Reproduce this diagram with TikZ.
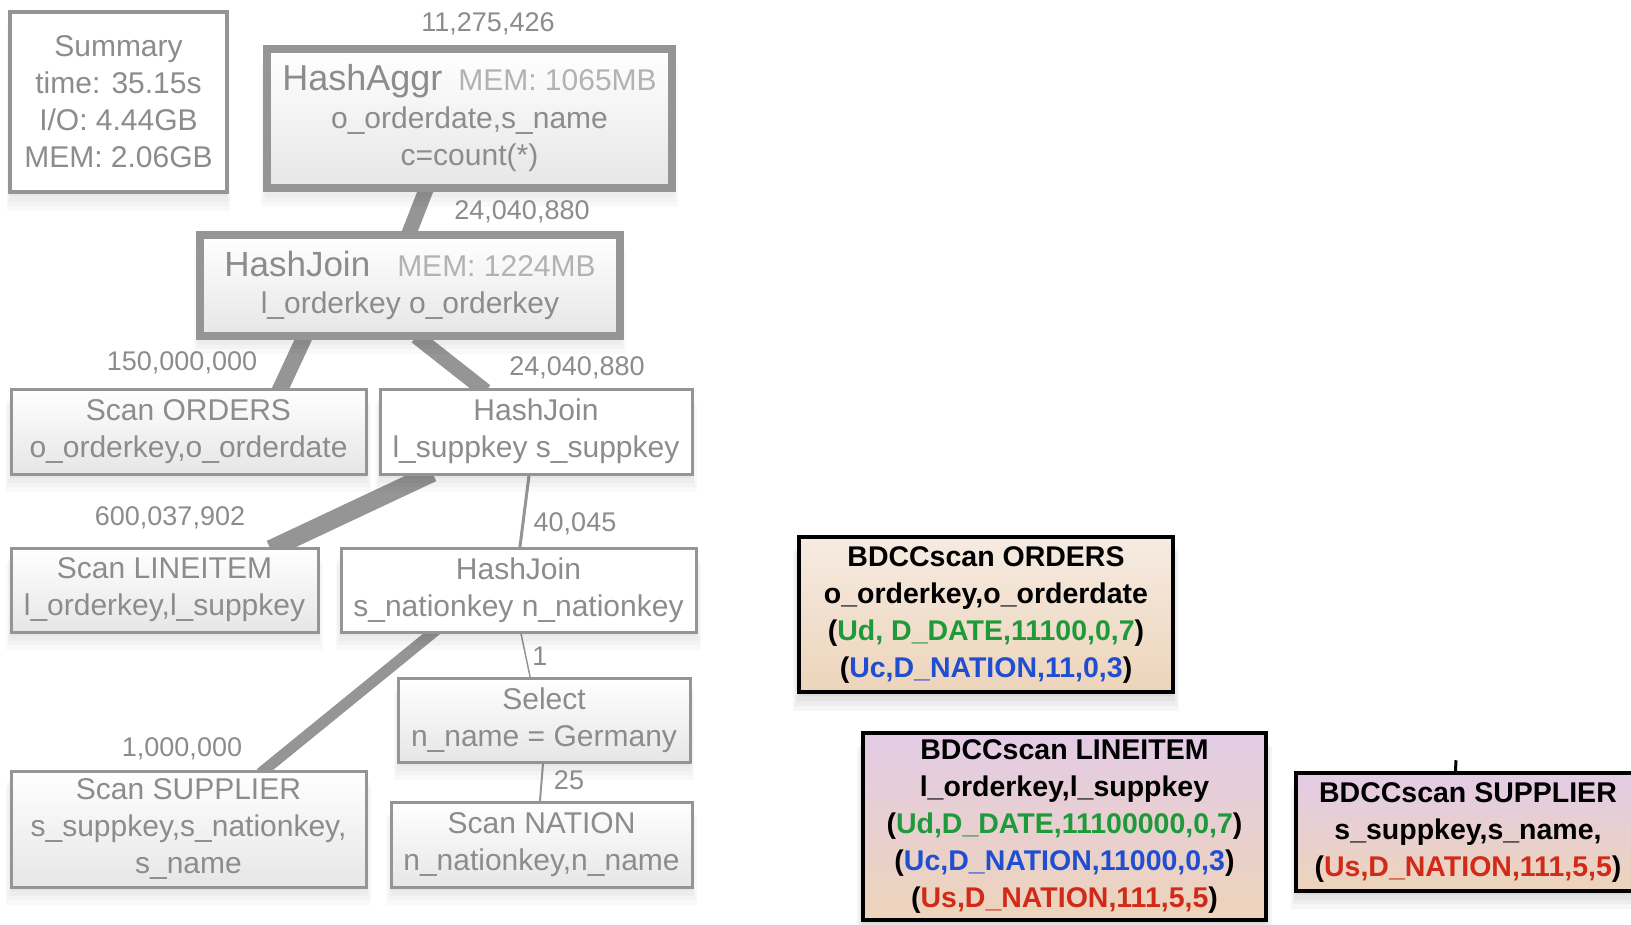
\documentclass[tikz,border=0pt]{standalone}
\usepackage{fontspec}
\setmainfont{Liberation Sans}
\usetikzlibrary{shadows,backgrounds}

\definecolor{plantext}{HTML}{8C8C8C}
\definecolor{planlight}{HTML}{B2B2B2}
\definecolor{planline}{HTML}{959595}
\definecolor{planshade}{HTML}{E6E6E6}
\definecolor{tanA}{HTML}{F6EBE2}
\definecolor{tanB}{HTML}{EDD4BA}
\definecolor{lilac}{HTML}{E3CBE6}
\definecolor{udgreen}{HTML}{1E9A3A}
\definecolor{ucblue}{HTML}{1F4FD0}
\definecolor{usred}{HTML}{D22A18}

\newcommand\sizept[2]{\fontsize{#1}{#2}\selectfont}

\tikzset{
  % soft shadow built from a few stacked translucent copies
  softshadow/.style={
    general shadow={fill=black, opacity=#1, shadow yshift=-4pt, shadow xshift=0pt, shadow scale=1.00},
    general shadow={fill=black, opacity=#1, shadow yshift=-8pt, shadow xshift=0pt, shadow scale=1.01},
    general shadow={fill=black, opacity=#1, shadow yshift=-12pt, shadow xshift=0pt, shadow scale=1.02},
    general shadow={fill=black, opacity=#1, shadow yshift=-16pt, shadow xshift=0pt, shadow scale=1.03}},
  planbox/.style={draw=planline, line width=3pt, text=plantext, align=center,
    inner sep=0pt, font=\sizept{30}{37}, softshadow=0.025},
  planshaded/.style={top color=white, bottom color=planshade},
  planwhite/.style={fill=white},
  bigbox/.style={line width=8.5pt},
  flow/.style={draw=planline, line cap=butt, shorten <=-6pt, shorten >=-6pt},
  count/.style={text=plantext, font=\sizept{27}{30}, inner sep=0pt},
  bdcc/.style={draw=black, line width=3.5pt, align=center, inner sep=0pt,
    font=\sizept{28.5}{37}\bfseries, text=black, softshadow=0.035},
}

\begin{document}
\begin{tikzpicture}[x=1pt, y=-1pt]
  \useasboundingbox (0,0) rectangle (1631,924);
  \clip (0,0) rectangle (1631,924);

  % summary of the run
  \node[planbox, planwhite, line width=3.5pt, minimum width=217pt, minimum height=180pt]
    (sum) at (118.5,102) {Summary\\time: 35.15s\\I/O: 4.44GB\\MEM: 2.06GB};

  % plan operators
  \node[planbox, planshaded, bigbox, minimum width=405pt, minimum height=139pt]
    (agg) at (469.5,118.5)
    {{\sizept{36}{38}HashAggr}\hspace{16pt}{\color{planlight}MEM: 1065MB}\\[1pt]o\_orderdate,s\_name\\c=count(*)};
  \node[planbox, planshaded, bigbox, minimum width=420pt, minimum height=101pt]
    (hj1) at (410,285.5)
    {{\sizept{35}{38}HashJoin}\hspace{27pt}{\color{planlight}MEM: 1224MB}\\l\_orderkey o\_orderkey};
  \node[planbox, planshaded, minimum width=355pt, minimum height=85pt]
    (ord) at (188.5,431.5) {Scan ORDERS\\o\_orderkey,o\_orderdate};
  \node[planbox, planwhite, minimum width=312pt, minimum height=85pt]
    (hj2) at (536,431.5) {HashJoin\\l\_suppkey s\_suppkey};
  \node[planbox, planshaded, minimum width=307pt, minimum height=84pt]
    (lin) at (164.5,590) {Scan LINEITEM\\l\_orderkey,l\_suppkey};
  \node[planbox, planwhite, minimum width=355pt, minimum height=84pt]
    (hj3) at (518.5,590) {HashJoin\\s\_nationkey n\_nationkey};
  \node[planbox, planshaded, minimum width=292pt, minimum height=84pt]
    (sel) at (544,720) {Select\\n\_name = Germany};
  \node[planbox, planshaded, minimum width=355pt, minimum height=116pt]
    (sup) at (188.5,829) {Scan SUPPLIER\\s\_suppkey,s\_nationkey,\\s\_name};
  \node[planbox, planshaded, minimum width=301pt, minimum height=85pt]
    (nat) at (541.5,844.5) {Scan NATION\\n\_nationkey,n\_name};

  % data flow between operators, width follows the row count
  \begin{scope}[on background layer]
    \fill[white] (0,0) rectangle (1631,924);
    \draw[flow, line width=15pt] ([xshift=-44.5pt]agg.south) -- ([xshift=0pt]hj1.north);
    \draw[flow, line width=16pt] ([xshift=-107pt]hj1.south) -- ([xshift=92.5pt]ord.north);
    \draw[flow, line width=15pt] ([xshift=11pt]hj1.south) -- ([xshift=-55pt]hj2.north);
    \draw[flow, line width=18pt] ([xshift=-109pt]hj2.south) -- ([xshift=111.5pt]lin.north);
    \draw[flow, line width=3pt] ([xshift=-7pt]hj2.south) -- ([xshift=1.5pt]hj3.north);
    \draw[flow, line width=1.5pt] ([xshift=2.5pt]hj3.south) -- ([xshift=-14pt]sel.north);
    \draw[flow, line width=11pt] ([xshift=-86.5pt]hj3.south) -- ([xshift=76.5pt]sup.north);
    \draw[flow, line width=2pt] ([xshift=-1pt]sel.south) -- ([xshift=-1.5pt]nat.north);
  \end{scope}

  % row counts
  \node[count] (c1) at (488,24) {11,275,426};
  \node[count] (c2) at (522,212) {24,040,880};
  \node[count] (c3) at (182,363) {150,000,000};
  \node[count] (c4) at (577,368) {24,040,880};
  \node[count] (c5) at (170,518) {600,037,902};
  \node[count] (c6) at (575,524) {40,045};
  \node[count] (c7) at (540,656) {1};
  \node[count] (c8) at (182,749) {1,000,000};
  \node[count] (c9) at (569,780) {25};

  % BDCC scans
  \node[bdcc, top color=tanA, bottom color=tanB, minimum width=374pt, minimum height=155pt]
    (bo) at (986,614.5)
    {BDCCscan ORDERS\\o\_orderkey,o\_orderdate\\
     (\textcolor{udgreen}{Ud, D\_DATE,11100,0,7})\\
     (\textcolor{ucblue}{Uc,D\_NATION,11,0,3})};
  \node[bdcc, top color=lilac, bottom color=tanB, minimum width=403pt, minimum height=187pt]
    (bl) at (1064.5,826.5)
    {BDCCscan LINEITEM\\l\_orderkey,l\_suppkey\\
     (\textcolor{udgreen}{Ud,D\_DATE,11100000,0,7})\\
     (\textcolor{ucblue}{Uc,D\_NATION,11000,0,3})\\
     (\textcolor{usred}{Us,D\_NATION,111,5,5})};
  \node[bdcc, top color=lilac, bottom color=tanB, minimum width=344pt, minimum height=118pt]
    (bs) at (1468,832)
    {BDCCscan SUPPLIER\\s\_suppkey,s\_name,\\
     (\textcolor{usred}{Us,D\_NATION,111,5,5})};
  \coordinate (bsup) at ([xshift=-12pt,yshift=11pt]bs.north);
  \draw[line width=3pt] ([xshift=-12.5pt]bs.north) -- (bsup);
\end{tikzpicture}
\end{document}
